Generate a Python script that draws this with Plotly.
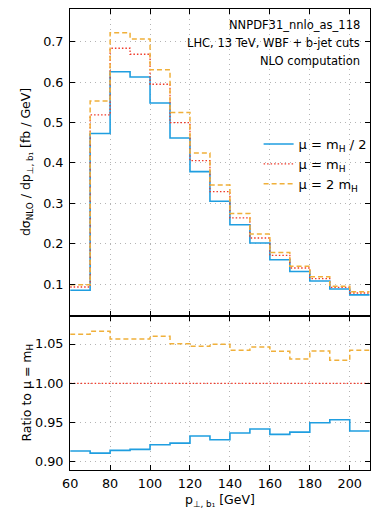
import plotly.graph_objects as go

# bin edges in p_T of the leading b-jet [GeV]
bin_edges = [60, 70, 80, 90, 100, 110, 120, 130, 140, 150, 160, 170, 180, 190, 200, 210]

# central scale mu = m_H  [fb / GeV]
xs_central = [0.0933, 0.5188, 0.6837, 0.6689, 0.5947, 0.4997, 0.4057, 0.3290,
              0.2640, 0.2145, 0.1717, 0.1403, 0.1139, 0.0926, 0.0785]

# ratios to mu = m_H
ratio_half = [0.9139, 0.9113, 0.9148, 0.9160, 0.9219, 0.9240, 0.9330, 0.9283,
              0.9368, 0.9419, 0.9351, 0.9380, 0.9499, 0.9537, 0.9393]
ratio_two = [1.0623, 1.0662, 1.0564, 1.0564, 1.0598, 1.0504, 1.0470, 1.0496,
             1.0420, 1.0462, 1.0407, 1.0310, 1.0410, 1.0293, 1.0420]

labels = ["μ = m<sub>H</sub> / 2", "μ = m<sub>H</sub>", "μ = 2 m<sub>H</sub>"]
info_lines = ["NNPDF31_nnlo_as_118", "LHC, 13 TeV, WBF + b-jet cuts", "NLO computation"]

W, H = 380, 517
FONT = "DejaVu Sans"

xs_half = [c * r for c, r in zip(xs_central, ratio_half)]
xs_two = [c * r for c, r in zip(xs_central, ratio_two)]
ratio_one = [1.0 for _ in xs_central]


def step(vals):
    # repeat last value so the hv step closes on the last edge
    return list(vals) + [vals[-1]]


styles = [
    dict(color="#1f9ee0", width=1.6, dash="solid"),
    dict(color="#f03a2a", width=1.3, dash="1.5px,2px"),
    dict(color="#f0b03a", width=1.5, dash="5px,3px"),
]

fig = go.Figure()

top_series = [xs_half, xs_central, xs_two]
bot_series = [ratio_half, ratio_one, ratio_two]
for i in range(3):
    fig.add_trace(go.Scatter(
        x=bin_edges, y=step(top_series[i]), mode="lines", line_shape="hv",
        line=styles[i], name=labels[i], xaxis="x", yaxis="y"))
for i in range(3):
    fig.add_trace(go.Scatter(
        x=bin_edges, y=step(bot_series[i]), mode="lines", line_shape="hv",
        line=styles[i], showlegend=False, xaxis="x2", yaxis="y2"))

x0, x1 = 63.5 / W, 369.5 / W
top_dom = [1 - 316 / H, 1 - 9.3 / H]
bot_dom = [1 - 470 / H, 1 - 316 / H]

axis_common = dict(
    showline=True, linecolor="black", linewidth=1.2, mirror="allticks",
    ticks="inside", ticklen=5, tickwidth=1, tickcolor="black",
    showgrid=True, gridcolor="#b4b4b4", gridwidth=1, griddash="1px,4px",
    zeroline=False, tickfont=dict(family=FONT, size=12.8, color="black"),
)

fig.update_layout(
    width=W, height=H,
    margin=dict(l=0, r=0, t=0, b=0),
    plot_bgcolor="white", paper_bgcolor="white",
    font=dict(family=FONT, color="black"),
    xaxis=dict(domain=[x0, x1], anchor="y", range=[60, 210], dtick=20,
               showticklabels=False, **axis_common),
    yaxis=dict(domain=top_dom, anchor="x", range=[0.0216, 0.780], dtick=0.1,
               tickformat=".1f", ticklabelstandoff=3, **axis_common),
    xaxis2=dict(domain=[x0, x1], anchor="y2", range=[60, 210], dtick=20,
                matches="x", ticklabelstandoff=2, **axis_common),
    yaxis2=dict(domain=bot_dom, anchor="x2", range=[0.8898, 1.0856], dtick=0.05,
                tickformat=".2f", ticklabelstandoff=3, **axis_common),
    legend=dict(x=256 / W, y=1 - 129 / H, xanchor="left", yanchor="top",
                bgcolor="rgba(0,0,0,0)", font=dict(family=FONT, size=13),
                tracegroupgap=0, itemwidth=30),
    showlegend=True,
)

ann = []
for k, txt in enumerate(info_lines):
    ann.append(dict(x=362 / W, y=1 - (25 + 18 * k) / H, xref="paper", yref="paper",
                    text=txt, showarrow=False, xanchor="right", yanchor="middle",
                    font=dict(family=FONT, size=11.5)))
ann.append(dict(x=19 / W, y=1 - 162.5 / H, xref="paper", yref="paper",
                text="dσ<sub>NLO</sub> / dp<sub>⊥, b₁</sub> [fb / GeV]", textangle=-90,
                showarrow=False, xanchor="center", yanchor="middle",
                font=dict(family=FONT, size=12.5)))
ann.append(dict(x=19 / W, y=1 - 393 / H, xref="paper", yref="paper",
                text="Ratio to μ = m<sub>H</sub>", textangle=-90,
                showarrow=False, xanchor="center", yanchor="middle",
                font=dict(family=FONT, size=12.5)))
ann.append(dict(x=216.5 / W, y=1 - 500 / H, xref="paper", yref="paper",
                text="p<sub>⊥, b₁</sub> [GeV]", showarrow=False,
                xanchor="center", yanchor="middle",
                font=dict(family=FONT, size=12.5)))
fig.update_layout(annotations=ann)

fig.write_html("out.html", config={"displayModeBar": False},
               post_script="document.body.style.margin='0';")
